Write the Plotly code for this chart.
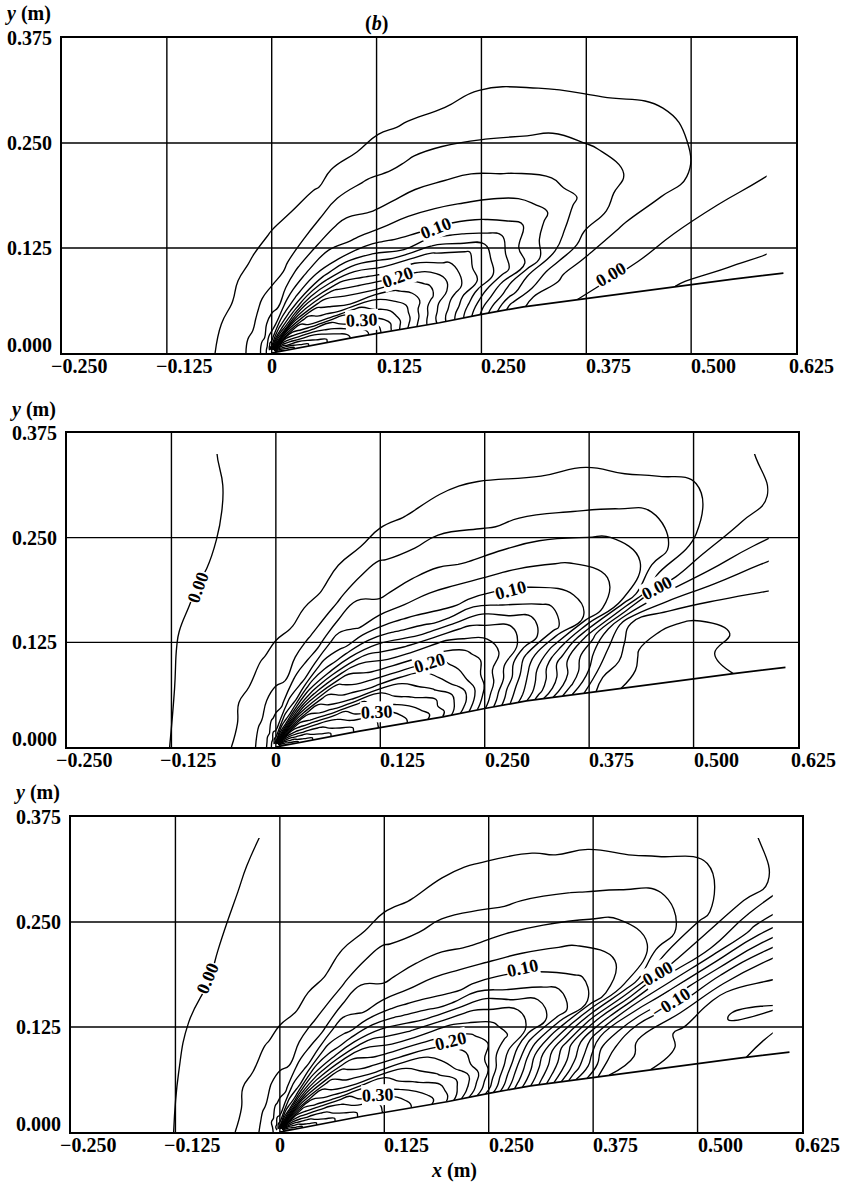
import numpy as np
import plotly.graph_objects as go

# ---------------- axis ticks ----------------
X_TICKS = [-0.250, -0.125, 0.0, 0.125, 0.250, 0.375, 0.500, 0.625]
X_TICK_TEXT = ["\u22120.250", "\u22120.125", "0", "0.125", "0.250", "0.375", "0.500", "0.625"]
Y_TICKS = [0.000, 0.125, 0.250, 0.375]
Y_TICK_TEXT = ["0.000", "0.125", "0.250", "0.375"]

# ---------------- surface profile (ramp) ----------------
WEDGE_X = [0.0, 0.1, 0.2, 0.25, 0.3, 0.375, 0.45, 0.5, 0.55, 0.61]
WEDGE_Y = [0.0, 0.019, 0.036, 0.046, 0.055, 0.065, 0.075, 0.082, 0.088, 0.095]
FIELD_X_MAX = 0.59   # computed field ends here
FIELD_Y_MAX = 0.35

# ---------------- field sampled on rays from the origin ----------------
RADII = [0.004, 0.01, 0.02, 0.035, 0.055, 0.08, 0.11, 0.14, 0.17, 0.2, 0.23,
         0.26, 0.29, 0.32, 0.36, 0.4, 0.45, 0.5, 0.56, 0.62, 0.7]
# first row of each table lies on the surface, then these ray angles (deg)
RAY_ANGLES_DEG = [12, 14, 16.5, 19.5, 23, 27, 32, 38, 45, 55, 61, 67, 74, 82, 90, 100, 115, 130, 150, 180]

FIELD_A = [
    [.46, .45, .43, .41, .39, .37, .35, .31, .25, .20, .145, .085, .03, .013, .002, -.006, -.014, -.022, -.025, -.028, -.03],
    [.46, .45, .43, .41, .39, .37, .35, .31, .255, .20, .15, .095, .045, .018, .008, .001, -.006, -.011, -.016, -.02, -.025],
    [.46, .44, .43, .41, .39, .37, .345, .31, .26, .205, .16, .11, .07, .04, .015, .007, .0, -.006, -.012, -.019, -.025],
    [.45, .43, .42, .40, .38, .36, .33, .30, .26, .21, .17, .13, .09, .055, .027, .015, .007, .0, -.008, -.015, -.02],
    [.45, .43, .41, .39, .37, .35, .31, .29, .26, .225, .19, .16, .13, .10, .058, .03, .016, .01, .005, .0, -.005],
    [.44, .42, .40, .38, .36, .33, .295, .275, .25, .225, .195, .16, .135, .10, .07, .05, .035, .025, .017, .01, .006],
    [.43, .41, .38, .36, .34, .32, .29, .26, .235, .21, .185, .165, .135, .11, .085, .063, .045, .033, .019, .012, .01],
    [.42, .40, .37, .34, .31, .275, .24, .22, .197, .182, .155, .125, .105, .09, .075, .057, .042, .03, .018, .012, .01],
    [.40, .38, .35, .32, .28, .25, .22, .19, .155, .12, .103, .09, .08, .07, .055, .045, .035, .019, .012, .01, .009],
    [.38, .35, .33, .30, .27, .235, .195, .155, .115, .09, .08, .07, .06, .052, .04, .03, .019, .014, .011, .01, .009],
    [.33, .29, .26, .235, .20, .165, .125, .095, .075, .062, .05, .043, .038, .03, .019, .015, .012, .011, .01, .01, .009],
    [.28, .24, .205, .17, .148, .12, .097, .08, .066, .053, .042, .033, .024, .017, .013, .011, .01, .0095, .009, .009, .0085],
    [.24, .20, .175, .14, .115, .093, .075, .06, .05, .04, .03, .02, .016, .013, .011, .01, .009, .009, .008, .008, .008],
    [.20, .17, .14, .112, .087, .072, .055, .041, .029, .021, .016, .013, .012, .011, .01, .0095, .009, .009, .008, .008, .008],
    [.17, .13, .105, .08, .06, .047, .035, .026, .02, .016, .014, .012, .011, .01, .0095, .009, .009, .008, .008, .008, .008],
    [.15, .11, .088, .068, .055, .04, .029, .021, .016, .013, .012, .011, .01, .009, .0088, .0085, .0082, .008, .0075, .0075, .0075],
    [.14, .105, .08, .06, .046, .032, .022, .016, .013, .011, .01, .009, .0085, .008, .008, .0075, .0075, .007, .007, .007, .007],
    [.115, .085, .06, .047, .033, .024, .016, .013, .011, .01, .009, .0085, .008, .0078, .0075, .007, .007, .0065, .0065, .0065, .0065],
    [.10, .075, .056, .04, .028, .018, .013, .011, .0095, .009, .008, .0075, .007, .007, .007, .0065, .0065, .006, .006, .006, .006],
    [.095, .068, .052, .038, .024, .017, .0125, .0105, .009, .0085, .0075, .007, .0065, .0065, .0065, .006, .006, .0055, .0055, .0055, .0055],
    [.09, .065, .05, .036, .024, .016, .012, .01, .009, .008, .007, .006, .006, .006, .006, .0055, .0055, .005, .005, .005, .005],
]

FIELD_B = [
    [.46, .45, .43, .41, .39, .37, .35, .33, .315, .285, .23, .17, .11, .05, -.02, -.075, -.088, -.09, -.079, -.073, -.07],
    [.46, .45, .43, .41, .39, .37, .35, .33, .315, .29, .24, .18, .12, .07, .005, -.06, -.085, -.088, -.075, -.072, -.07],
    [.46, .44, .43, .41, .39, .37, .35, .33, .31, .28, .25, .19, .13, .08, .02, -.04, -.083, -.088, -.08, -.07, -.068],
    [.45, .43, .42, .40, .38, .36, .35, .325, .30, .28, .25, .20, .15, .09, .025, -.025, -.075, -.085, -.075, -.065, -.06],
    [.45, .43, .41, .39, .37, .35, .33, .31, .285, .263, .234, .20, .16, .11, .065, .01, -.058, -.055, -.05, -.05, -.05],
    [.445, .425, .405, .385, .365, .345, .31, .29, .27, .25, .225, .205, .18, .155, .125, .10, .06, .005, -.01, -.018, -.02],
    [.435, .415, .39, .368, .35, .33, .308, .283, .258, .238, .217, .196, .176, .158, .127, .10, .078, .055, .022, .008, -.008],
    [.425, .405, .38, .35, .325, .29, .258, .235, .218, .20, .186, .168, .15, .12, .10, .085, .068, .05, .03, .012, -.006],
    [.405, .385, .36, .33, .295, .262, .23, .205, .18, .155, .128, .105, .095, .085, .072, .06, .042, .028, .012, .008, .002],
    [.385, .36, .335, .31, .28, .25, .215, .18, .145, .112, .09, .08, .068, .055, .043, .033, .021, .014, .011, .01, .009],
    [.335, .295, .265, .24, .207, .172, .135, .105, .082, .066, .055, .046, .04, .035, .024, .016, .012, .011, .01, .01, .009],
    [.28, .24, .21, .18, .155, .13, .105, .088, .073, .06, .048, .038, .027, .018, .012, .01, .009, .0085, .008, .008, .008],
    [.23, .19, .165, .13, .105, .085, .068, .055, .045, .036, .028, .02, .015, .012, .01, .009, .008, .008, .007, .007, .007],
    [.195, .16, .133, .107, .085, .066, .05, .036, .025, .018, .014, .011, .009, .008, .007, .0065, .006, .006, .0055, .0055, .0055],
    [.16, .12, .095, .072, .054, .04, .029, .021, .016, .012, .009, .007, .006, .005, .004, .004, .003, .003, .003, .003, .003],
    [.14, .105, .08, .064, .05, .036, .024, .017, .012, .009, .007, .0055, .0045, .004, .0035, .003, .0025, .002, .002, .002, .002],
    [.13, .10, .075, .056, .042, .028, .018, .012, .008, .005, .003, .002, .001, .0005, .0005, .0, -.001, -.002, -.003, -.003, -.003],
    [.105, .076, .056, .042, .029, .019, .012, .008, .005, .0015, -.001, -.003, -.004, -.0045, -.005, -.005, -.005, -.005, -.005, -.005, -.005],
    [.095, .07, .052, .037, .025, .016, .009, .004, .001, -.002, -.004, -.005, -.006, -.006, -.007, -.007, -.007, -.007, -.007, -.007, -.007],
    [.088, .064, .046, .032, .019, .011, .005, .0, -.003, -.005, -.006, -.007, -.008, -.008, -.008, -.008, -.008, -.008, -.008, -.008, -.008],
    [.085, .062, .044, .03, .019, .011, .004, -.003, -.006, -.008, -.009, -.01, -.01, -.01, -.01, -.01, -.01, -.01, -.01, -.01, -.01],
]

FIELD_C = [
    [.46, .45, .43, .41, .39, .37, .35, .33, .315, .285, .22, .16, .09, .03, -.06, -.12, -.14, -.148, -.141, -.13, -.125],
    [.46, .45, .43, .41, .39, .37, .35, .33, .315, .29, .235, .175, .105, .045, -.03, -.10, -.13, -.145, -.148, -.14, -.13],
    [.46, .44, .43, .41, .39, .37, .35, .33, .31, .285, .245, .185, .12, .06, -.01, -.09, -.128, -.145, -.162, -.16, -.15],
    [.45, .43, .42, .40, .38, .36, .35, .325, .30, .28, .25, .20, .14, .075, .005, -.06, -.105, -.12, -.155, -.145, -.14],
    [.45, .43, .41, .39, .37, .35, .33, .31, .285, .263, .234, .20, .16, .11, .06, .005, -.045, -.07, -.10, -.118, -.12],
    [.445, .425, .405, .385, .365, .345, .31, .29, .27, .25, .228, .208, .185, .16, .13, .10, .058, .003, -.02, -.045, -.05],
    [.435, .415, .39, .368, .35, .33, .308, .283, .258, .238, .217, .198, .178, .16, .13, .103, .08, .057, .025, .008, -.01],
    [.425, .405, .38, .35, .325, .29, .258, .235, .218, .20, .186, .168, .15, .12, .10, .086, .07, .052, .033, .015, -.008],
    [.405, .385, .36, .33, .295, .262, .23, .205, .18, .155, .128, .105, .095, .085, .072, .06, .044, .03, .013, .006, -.002],
    [.385, .36, .335, .31, .28, .25, .215, .18, .145, .112, .09, .08, .068, .056, .045, .035, .023, .014, .011, .008, .006],
    [.335, .295, .265, .24, .207, .172, .135, .105, .082, .066, .055, .046, .04, .035, .025, .017, .012, .01, .008, .006, .005],
    [.28, .24, .21, .18, .155, .13, .105, .088, .073, .06, .048, .038, .027, .018, .012, .009, .007, .006, .005, .0045, .004],
    [.23, .19, .165, .13, .105, .085, .068, .055, .045, .036, .028, .02, .015, .012, .01, .008, .006, .005, .004, .003, .003],
    [.195, .16, .133, .107, .085, .066, .05, .036, .025, .018, .014, .011, .009, .007, .006, .005, .004, .0035, .003, .003, .003],
    [.16, .12, .095, .072, .054, .04, .029, .021, .016, .012, .009, .007, .005, .004, .003, .002, .001, .0, .0, -.001, -.001],
    [.14, .105, .08, .064, .05, .036, .024, .017, .012, .009, .007, .005, .0035, .0025, .001, .0, -.001, -.001, -.001, -.001, -.001],
    [.13, .10, .075, .056, .042, .028, .018, .012, .008, .005, .003, .0015, .0, -.001, -.002, -.003, -.004, -.004, -.004, -.004, -.004],
    [.105, .076, .056, .042, .029, .019, .012, .008, .004, .0, -.002, -.004, -.005, -.005, -.006, -.006, -.006, -.006, -.006, -.006, -.006],
    [.095, .07, .052, .037, .025, .016, .009, .004, .0, -.003, -.005, -.006, -.007, -.007, -.007, -.007, -.007, -.007, -.007, -.007, -.007],
    [.078, .06, .046, .032, .019, .011, .005, .0, -.003, -.005, -.006, -.007, -.008, -.008, -.008, -.008, -.008, -.008, -.008, -.008, -.008],
    [.068, .056, .044, .032, .019, .011, .004, -.003, -.006, -.008, -.009, -.01, -.01, -.01, -.01, -.01, -.01, -.01, -.01, -.01, -.01],
]

CONTOUR_START, CONTOUR_END, CONTOUR_STEP = -0.20, 0.48, 0.02

# contour labels: (text, x, y, angle)
LABELS_A = [("0.30", 0.108, 0.039, -3), ("0.20", 0.151, 0.090, -20),
            ("0.10", 0.196, 0.149, -22), ("0.00", 0.405, 0.094, -30)]
LABELS_B = [("0.00", -0.093, 0.191, -70), ("0.30", 0.121, 0.042, -3),
            ("0.20", 0.184, 0.100, -17), ("0.10", 0.282, 0.187, -15),
            ("0.00", 0.456, 0.190, -28)]
LABELS_C = [("0.00", -0.086, 0.183, -67), ("0.30", 0.117, 0.044, -3),
            ("0.20", 0.205, 0.108, -14), ("0.10", 0.291, 0.195, -12),
            ("0.00", 0.453, 0.189, -30), ("\u22120.10", 0.468, 0.154, -32)]

# ---------------- layout geometry (pixels) ----------------
W, H = 842, 1183
PANEL_BOXES = [(62, 796, 38, 353), (67, 798, 433, 747), (71, 802, 817, 1132)]
FONT = "Liberation Serif"
TICK_SIZE = 20
LABEL_SIZE = 18

# carpet grid: first row follows the surface, others are rays
R = np.array(RADII)
wx, wy = np.array(WEDGE_X), np.array(WEDGE_Y)
w_r = np.hypot(wx[1:], wy[1:])
w_t = np.arctan2(wy[1:], wx[1:])
theta_rows = [np.interp(R, w_r, w_t)] + [np.full(R.shape, np.deg2rad(a)) for a in RAY_ANGLES_DEG]
TH = np.vstack(theta_rows)
CX = (R[None, :] * np.cos(TH)).tolist()
CY = (R[None, :] * np.sin(TH)).tolist()
B_IDX = list(range(TH.shape[0]))

axis_off = dict(showgrid=False, showline=False, showticklabels="none",
                startline=False, endline=False, minorgridcount=0, smoothing=0)

fig = go.Figure()
shapes, annotations = [], []
layout_axes = {}

fields = [FIELD_A, FIELD_B, FIELD_C]
labels = [LABELS_A, LABELS_B, LABELS_C]

for i, (field, labs, box) in enumerate(zip(fields, labels, PANEL_BOXES)):
    n = "" if i == 0 else str(i + 1)
    xa, ya = "x" + n, "y" + n
    px0, px1, py0, py1 = box
    layout_axes["xaxis" + n] = dict(domain=[px0 / W, px1 / W], range=[X_TICKS[0], X_TICKS[-1]],
                                    anchor=ya, showgrid=False, zeroline=False, showticklabels=False,
                                    ticks="", showline=True, mirror=True, linecolor="black",
                                    linewidth=1.7, layer="above traces")
    layout_axes["yaxis" + n] = dict(domain=[1 - py1 / H, 1 - py0 / H], range=[Y_TICKS[0], Y_TICKS[-1]],
                                    anchor=xa, showgrid=False, zeroline=False, showticklabels=False,
                                    ticks="", showline=True, mirror=True, linecolor="black",
                                    linewidth=1.7, layer="above traces")
    cid = "carpet%d" % i
    fig.add_trace(go.Carpet(carpet=cid, a=RADII, b=B_IDX, x=CX, y=CY, xaxis=xa, yaxis=ya,
                            aaxis=axis_off, baxis=axis_off))
    fig.add_trace(go.Contourcarpet(carpet=cid, a=RADII, b=B_IDX, z=field, xaxis=xa, yaxis=ya,
                                   autocontour=False,
                                   contours=dict(start=CONTOUR_START, end=CONTOUR_END,
                                                 size=CONTOUR_STEP, coloring="none"),
                                   line=dict(color="black", width=1.35, smoothing=1.3),
                                   showscale=False))
    # masks outside the computed domain
    mask_style = dict(mode="lines", fill="toself", fillcolor="white", line=dict(width=0, color="white"),
                      hoverinfo="skip", showlegend=False, xaxis=xa, yaxis=ya)
    fig.add_trace(go.Scatter(x=WEDGE_X + [0.66, 0.66, 0.0], y=WEDGE_Y + [WEDGE_Y[-1], -0.03, -0.03], **mask_style))
    fig.add_trace(go.Scatter(x=[FIELD_X_MAX, 0.66, 0.66, FIELD_X_MAX], y=[-0.03, -0.03, 0.4, 0.4], **mask_style))
    fig.add_trace(go.Scatter(x=[-0.3, 0.66, 0.66, -0.3], y=[FIELD_Y_MAX, FIELD_Y_MAX, 0.4, 0.4], **mask_style))
    # surface
    fig.add_trace(go.Scatter(x=WEDGE_X, y=WEDGE_Y, mode="lines", line=dict(color="black", width=1.7),
                             hoverinfo="skip", showlegend=False, xaxis=xa, yaxis=ya))
    # grid lines
    for xv in X_TICKS[1:-1]:
        shapes.append(dict(type="line", xref=xa, yref=ya, x0=xv, x1=xv, y0=Y_TICKS[0], y1=Y_TICKS[-1],
                           line=dict(color="black", width=1.4), layer="above"))
    for yv in Y_TICKS[1:-1]:
        shapes.append(dict(type="line", xref=xa, yref=ya, x0=X_TICKS[0], x1=X_TICKS[-1], y0=yv, y1=yv,
                           line=dict(color="black", width=1.4), layer="above"))
    # tick labels
    for yv, txt in zip(Y_TICKS, Y_TICK_TEXT):
        annotations.append(dict(xref=xa, yref=ya, x=X_TICKS[0], y=yv, text="<b>%s</b>" % txt,
                                showarrow=False, xanchor="right", yanchor="middle", xshift=-8,
                                yshift=8 if yv == Y_TICKS[0] else 0,
                                font=dict(family=FONT, size=TICK_SIZE, color="black")))
    for xv, txt in zip(X_TICKS, X_TICK_TEXT):
        if txt == "0":
            anc, sh = "center", 0
        elif txt.startswith("\u2212"):
            anc, sh = "left", -13
        elif xv == X_TICKS[-1]:
            anc, sh = "left", -9
        else:
            anc, sh = "left", -2
        annotations.append(dict(xref=xa, yref=ya, x=xv, y=Y_TICKS[0], text="<b>%s</b>" % txt,
                                showarrow=False, xanchor=anc, yanchor="top", xshift=sh, yshift=0,
                                font=dict(family=FONT, size=TICK_SIZE, color="black")))
    # y (m)
    annotations.append(dict(xref="paper", yref="paper", x=(px0 - 9) / W, y=1 - (py0 - 24) / H,
                            text="<b><i>y</i> (m)</b>", showarrow=False, xanchor="right",
                            yanchor="middle", font=dict(family=FONT, size=TICK_SIZE, color="black")))
    # contour labels
    for txt, lx, ly, ang in labs:
        annotations.append(dict(xref=xa, yref=ya, x=lx, y=ly, text="<b>%s</b>" % txt, showarrow=False,
                                textangle=ang, bgcolor="white", borderpad=0,
                                font=dict(family=FONT, size=LABEL_SIZE, color="black")))

annotations.append(dict(xref="x", yref="paper", x=0.125, y=1 - 24 / H, text="<b>(<i>b</i>)</b>",
                        showarrow=False, xanchor="center", yanchor="middle",
                        font=dict(family=FONT, size=TICK_SIZE, color="black")))
annotations.append(dict(xref="x3", yref="paper", x=0.208, y=1 - 1170 / H, text="<b><i>x</i> (m)</b>",
                        showarrow=False, xanchor="center", yanchor="middle",
                        font=dict(family=FONT, size=TICK_SIZE, color="black")))

fig.update_layout(width=W, height=H, margin=dict(l=0, r=0, t=0, b=0), showlegend=False,
                  paper_bgcolor="white", plot_bgcolor="white", shapes=shapes,
                  annotations=annotations, **layout_axes)

fig.write_html("out.html")
